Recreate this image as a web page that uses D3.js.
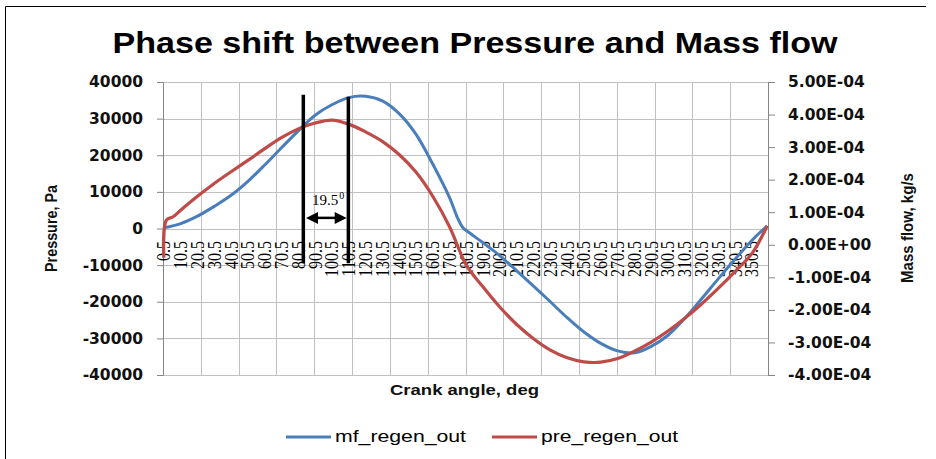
<!DOCTYPE html>
<html>
<head>
<meta charset="utf-8">
<script src="https://cdn.jsdelivr.net/npm/d3@7"></script>
<style>
  body { margin: 0; background: #fff; }
  svg { display: block; }
</style>
</head>
<body>
<div id="chart"></div>
<script>
// Values (crank angle in deg)
var mfAngle = [0.5, 10.5, 20.5, 30.5, 40.5, 50.5, 60.5, 70.5, 80.5, 90.5, 100.5, 110.5, 120.5, 130.5, 140.5,
  150.5, 160.5, 170.5, 175.5, 178.5, 182.5, 190.5, 200.5, 210.5, 220.5, 230.5, 240.5, 250.5, 260.5, 270.5,
  280.5, 290.5, 300.5, 310.5, 320.5, 330.5, 340.5, 350.5, 359.5];
var mfValue = [0.52e-4, 0.65e-4, 0.88e-4, 1.18e-4, 1.52e-4, 1.95e-4, 2.45e-4, 2.98e-4, 3.50e-4, 3.98e-4, 4.30e-4,
  4.52e-4, 4.56e-4, 4.42e-4, 4.03e-4, 3.40e-4, 2.48e-4, 1.45e-4, 0.80e-4, 0.52e-4, 0.36e-4, 0.06e-4, -0.34e-4,
  -0.80e-4, -1.27e-4, -1.75e-4, -2.24e-4, -2.68e-4, -3.03e-4, -3.26e-4, -3.32e-4, -3.12e-4, -2.78e-4, -2.26e-4,
  -1.66e-4, -1.04e-4, -0.44e-4, 0.14e-4, 0.58e-4];

var preAngle = [0.5, 2.0, 6.0, 10.5, 20.5, 30.5, 40.5, 50.5, 60.5, 70.5, 80.5, 90.5, 100.5, 110.5, 120.5, 130.5,
  140.5, 150.5, 160.5, 170.5, 180.5, 190.5, 200.5, 210.5, 220.5, 230.5, 240.5, 250.5, 260.5, 270.5, 280.5,
  290.5, 300.5, 310.5, 320.5, 330.5, 340.5, 350.5, 359.5];
var preValue = [-8000, 2300, 3200, 5000, 8800, 12300, 15500, 18600, 21800, 24800, 27200, 28800, 29600, 28500,
  26400, 23800, 20200, 15400, 8800, 500, -10000, -16000, -21500, -26200, -30100, -33200, -35300, -36400, -36500,
  -35500, -33500, -31000, -28000, -24500, -20600, -16300, -11700, -6800, 700];

var pressureTicks = [-40000, -30000, -20000, -10000, 0, 10000, 20000, 30000, 40000];
var massTicks = [-4e-4, -3e-4, -2e-4, -1e-4, 0, 1e-4, 2e-4, 3e-4, 4e-4, 5e-4];
var angleLabels = [0.5, 10.5, 20.5, 30.5, 40.5, 50.5, 60.5, 70.5, 80.5, 90.5, 100.5, 110.5, 120.5, 130.5, 140.5,
  150.5, 160.5, 170.5, 180.5, 190.5, 200.5, 210.5, 220.5, 230.5, 240.5, 250.5, 260.5, 270.5, 280.5, 290.5,
  300.5, 310.5, 320.5, 330.5, 340.5, 350.5];
var gridAngles = [0, 22.5, 45, 67.5, 90, 112.5, 135, 157.5, 180, 202.5, 225, 247.5, 270, 292.5, 315, 337.5, 360];

var seriesNames = ["mf_regen_out", "pre_regen_out"];
var seriesColors = ["#4A7EBB", "#BE4B48"];

// hand drawn phase marker
var phaseAngles = [83.5, 110.3];
var phaseTop = [36500, 36000];
var phaseBottom = -9500;
var arrowAngles = [85.1, 109.3];
var arrowPressure = 2900;
var phaseLabel = "19.5";

var W = 936, H = 459;
var sx = 1.15; // the picture is a bit wide, so rotated text is stretched

var svg = d3.select("#chart").append("svg")
  .attr("width", W)
  .attr("height", H)
  .style("font-family", "'Liberation Sans', Arial, sans-serif");

svg.append("rect").attr("width", W).attr("height", H).attr("fill", "#fff");

// frame
svg.append("path")
  .attr("d", "M5.5," + H + "V6.5H926")
  .attr("fill", "none")
  .attr("stroke", "#000")
  .attr("stroke-width", 1);

var x = d3.scaleLinear().domain([0, 360]).range([163, 768]);
var yP = d3.scaleLinear().domain([-40000, 40000]).range([375, 82]);
var yM = d3.scaleLinear().domain([-4e-4, 5e-4]).range([375, 82]);

// grid
var grid = svg.append("g").attr("stroke", "#C0C0C0").attr("stroke-width", 1);
grid.selectAll(".hg")
  .data(pressureTicks)
  .enter()
  .append("line")
  .attr("x1", x(0)).attr("x2", x(360))
  .attr("y1", function(d) { return Math.round(yP(d)) + 0.5; })
  .attr("y2", function(d) { return Math.round(yP(d)) + 0.5; });
grid.selectAll(".vg")
  .data(gridAngles)
  .enter()
  .append("line")
  .attr("y1", yP(40000)).attr("y2", yP(-40000))
  .attr("x1", function(d) { return Math.round(x(d)) + 0.5; })
  .attr("x2", function(d) { return Math.round(x(d)) + 0.5; });

// left axis
var leftAxis = svg.append("g")
  .attr("transform", "translate(" + Math.round(x(0)) + ",0)")
  .call(d3.axisLeft(yP).tickValues(pressureTicks).tickFormat(function(d) { return String(d); }).tickSize(6).tickPadding(14));

// right axis
function sci(v) {
  if (Math.abs(v) < 1e-12) return "0.00E+00";
  var e = Math.floor(Math.log10(Math.abs(v)) + 1e-9);
  var m = v / Math.pow(10, e);
  var ae = Math.abs(e);
  return m.toFixed(2) + "E" + (e < 0 ? "-" : "+") + (ae < 10 ? "0" : "") + ae;
}
var rightAxis = svg.append("g")
  .attr("transform", "translate(" + Math.round(x(360)) + ",0)")
  .call(d3.axisRight(yM).tickValues(massTicks).tickFormat(sci).tickSize(7).tickPadding(13));

[leftAxis, rightAxis].forEach(function(a) {
  a.selectAll("path.domain").attr("stroke", "#868686");
  a.selectAll(".tick line").attr("stroke", "#868686");
  a.selectAll(".tick text")
    .attr("fill", "#111")
    .style("font-family", "'DejaVu Sans', Verdana, sans-serif")
    .style("font-weight", "bold")
    .style("font-size", "15.5px");
});

// category labels
svg.append("g")
  .selectAll("text")
  .data(angleLabels)
  .enter()
  .append("text")
  .attr("transform", function(d) { return "translate(" + x(d) + ",241) scale(" + sx + ",1) rotate(-90)"; })
  .attr("text-anchor", "end")
  .attr("dy", "0.35em")
  .style("font-family", "'Liberation Serif', 'Times New Roman', serif")
  .style("font-size", "16px")
  .attr("fill", "#000")
  .text(function(d) { return d; });

// series
var mfData = mfAngle.map(function(a, i) { return { a: a, v: mfValue[i] }; });
var preData = preAngle.map(function(a, i) { return { a: a, v: preValue[i] }; });

var mfLine = d3.line()
  .x(function(d) { return x(d.a); })
  .y(function(d) { return yM(d.v); })
  .curve(d3.curveCatmullRom.alpha(0.5));
var preLine = d3.line()
  .x(function(d) { return x(d.a); })
  .y(function(d) { return yP(d.v); })
  .curve(d3.curveCatmullRom.alpha(0.5));

svg.append("path")
  .datum(mfData)
  .attr("d", mfLine)
  .attr("fill", "none")
  .attr("stroke", seriesColors[0])
  .attr("stroke-width", 3)
  .attr("stroke-linejoin", "round");
svg.append("path")
  .datum(preData)
  .attr("d", preLine)
  .attr("fill", "none")
  .attr("stroke", seriesColors[1])
  .attr("stroke-width", 3.2)
  .attr("stroke-linejoin", "round");

// phase marker
var mark = svg.append("g");
mark.selectAll("line")
  .data(phaseAngles)
  .enter()
  .append("line")
  .attr("x1", function(d) { return x(d); })
  .attr("x2", function(d) { return x(d); })
  .attr("y1", function(d, i) { return yP(phaseTop[i]); })
  .attr("y2", yP(phaseBottom))
  .attr("stroke", "#000")
  .attr("stroke-width", 3.5);

var ax0 = x(arrowAngles[0]), ax1 = x(arrowAngles[1]), ay = yP(arrowPressure);
mark.append("line")
  .attr("x1", ax0 + 8).attr("x2", ax1 - 8)
  .attr("y1", ay).attr("y2", ay)
  .attr("stroke", "#000")
  .attr("stroke-width", 2.5);
mark.append("path")
  .attr("d", "M" + ax0 + "," + ay + "L" + (ax0 + 12) + "," + (ay - 6) + "L" + (ax0 + 12) + "," + (ay + 6) + "Z" +
             "M" + ax1 + "," + ay + "L" + (ax1 - 12) + "," + (ay - 6) + "L" + (ax1 - 12) + "," + (ay + 6) + "Z")
  .attr("fill", "#000");

var lbl = mark.append("text")
  .attr("x", 312)
  .attr("y", 205)
  .style("font-family", "'Liberation Serif', 'Times New Roman', serif")
  .style("font-size", "15px")
  .attr("fill", "#000")
  .text(phaseLabel);
lbl.append("tspan")
  .attr("dy", -6)
  .attr("dx", 1)
  .style("font-size", "10px")
  .text("0");

// title
svg.append("text")
  .attr("x", 475)
  .attr("y", 53)
  .attr("text-anchor", "middle")
  .attr("textLength", 725)
  .attr("lengthAdjust", "spacingAndGlyphs")
  .style("font-size", "29px")
  .style("font-weight", "bold")
  .attr("fill", "#000")
  .text("Phase shift between Pressure and Mass flow");

// axis titles
svg.append("text")
  .attr("x", 464.5)
  .attr("y", 395)
  .attr("text-anchor", "middle")
  .attr("textLength", 149)
  .attr("lengthAdjust", "spacingAndGlyphs")
  .style("font-size", "15px")
  .style("font-weight", "bold")
  .attr("fill", "#111")
  .text("Crank angle, deg");

svg.append("text")
  .attr("transform", "translate(51,228.5) scale(" + sx + ",1) rotate(-90)")
  .attr("text-anchor", "middle")
  .attr("dy", "0.35em")
  .attr("textLength", 87)
  .attr("lengthAdjust", "spacingAndGlyphs")
  .style("font-size", "15px")
  .style("font-weight", "bold")
  .attr("fill", "#111")
  .text("Pressure, Pa");

svg.append("text")
  .attr("transform", "translate(907,228) scale(" + sx + ",1) rotate(-90)")
  .attr("text-anchor", "middle")
  .attr("dy", "0.35em")
  .attr("textLength", 110)
  .attr("lengthAdjust", "spacingAndGlyphs")
  .style("font-size", "15px")
  .style("font-weight", "bold")
  .attr("fill", "#111")
  .text("Mass flow, kg/s");

// legend
var legendX = [286, 492];
var legendText = [131, 137];
var legend = svg.append("g");
seriesNames.forEach(function(name, i) {
  legend.append("line")
    .attr("x1", legendX[i]).attr("x2", legendX[i] + 45)
    .attr("y1", 437).attr("y2", 437)
    .attr("stroke", seriesColors[i])
    .attr("stroke-width", 3);
  legend.append("text")
    .attr("x", legendX[i] + 49)
    .attr("y", 442)
    .attr("textLength", legendText[i])
    .attr("lengthAdjust", "spacingAndGlyphs")
    .style("font-size", "17px")
    .attr("fill", "#000")
    .text(name);
});
</script>
</body>
</html>
